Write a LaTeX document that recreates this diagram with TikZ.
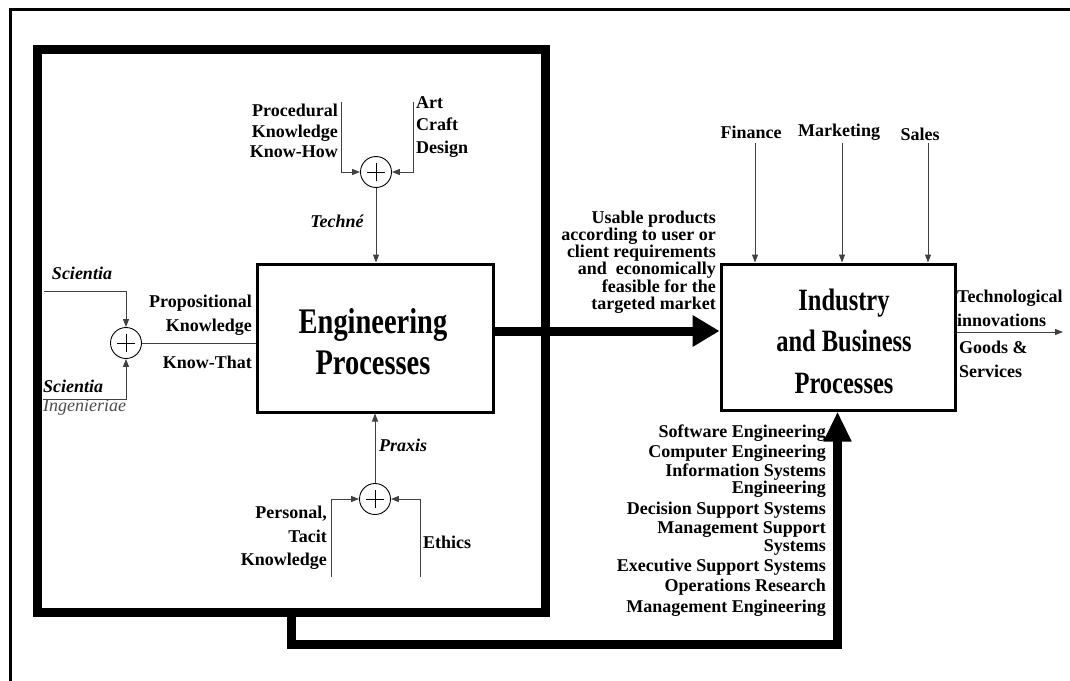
\documentclass[tikz,border=0pt]{standalone}
\usepackage{fontspec}
\setmainfont{Liberation Serif}
\newfontfamily\condfont[FakeStretch=0.79]{Liberation Serif}
\usetikzlibrary{arrows.meta}
\tikzset{
  thinln/.style={draw=black!75, line width=1pt},
  arr/.style={thinln, -{Triangle[length=8pt,width=6pt]}},
  heavy/.style={line width=9pt, line join=miter},
  sumc/.style={circle, draw=black, line width=0.9pt, minimum size=31pt, inner sep=0pt,
    path picture={\draw[line width=1pt]
      ([xshift=-9pt]path picture bounding box.center) -- ([xshift=9pt]path picture bounding box.center)
      ([yshift=-9pt]path picture bounding box.center) -- ([yshift=9pt]path picture bounding box.center);}},
  lbl/.style={font=\fontsize{18}{20}\selectfont\bfseries, inner sep=0pt},
  ilbl/.style={font=\fontsize{18}{20}\selectfont\bfseries\itshape, inner sep=0pt},
  big/.style={font=\fontsize{36}{41}\selectfont\condfont\bfseries, inner sep=0pt, align=center},
  procbox/.style={draw, line width=3pt},
}
\begin{document}
\begin{tikzpicture}[x=1pt,y=-1pt]
\useasboundingbox (0,0) rectangle (1070,680);
\fill[white] (0,0) rectangle (1070,680);
% outer frame
\draw[line width=3pt] (10.5,700) -- (10.5,9) -- (1090,9);
% big thick box
\node[draw, line width=9pt, minimum width=508pt, minimum height=563pt, inner sep=0pt] (bigbox) at (291.5,331) {};
% process boxes
\node[procbox, minimum width=236pt, minimum height=148pt] (eng) at (375,338) {};
\node[procbox, minimum width=234pt, minimum height=146pt] (ind) at (838,337) {};
\node[big] (engtxt) at (373,342) {Engineering\\Processes};
\node[big, font=\fontsize{31}{41.5}\selectfont\condfont\bfseries] (indtxt) at (844,341) {Industry\\and Business\\Processes};

% top summing junction
\node[sumc] (t) at (376,172) {};
\coordinate (tl) at (341,102);
\coordinate (tr) at (413,102);
\draw[arr] (tl) |- (t.west);
\draw[arr] (tr) |- (t.east);
\draw[arr] (t.south) -- (t.south |- eng.north);
\node[lbl, align=right, anchor=east, font=\fontsize{18}{20.5}\selectfont\bfseries] (proc) at (338,131) {Procedural\\Knowledge\\Know-How};
\node[lbl, align=left, anchor=west, font=\fontsize{18}{22.5}\selectfont\bfseries] (art) at (416,127) {Art\\Craft\\Design};
\node[ilbl] (techne) at (337,221) {Techné};

% left summing junction
\node[sumc] (l) at (126,343) {};
\coordinate (sa) at (44,291);
\coordinate (sb) at (43,399);
\draw[arr] (sa) -| (l.north);
\draw[arr] (sb) -| (l.south);
\draw[thinln] (l.east) -- (l.east -| eng.west);
\node[ilbl] (sci1) at (82,273) {Scientia};
\node[lbl, align=right, anchor=east, font=\fontsize{18}{24}\selectfont\bfseries] (prop) at (252,315) {Propositional\\Knowledge};
\node[lbl, anchor=east] (kt) at (252,362) {Know-That};
\node[ilbl, anchor=west] (sci2) at (43,386) {Scientia};
\node[inner sep=0pt, anchor=west, text=black!70, font=\fontsize{18}{20}\selectfont\itshape] (ing) at (43,407) {Ingenieriae};

% bottom summing junction
\node[sumc] (b) at (375,499) {};
\coordinate (bl) at (331,577);
\coordinate (br) at (420,577);
\draw[arr] (bl) |- (b.west);
\draw[arr] (br) |- (b.east);
\draw[arr] (b.north) -- (b.north |- eng.south);
\node[ilbl] (praxis) at (403,445) {Praxis};
\node[lbl, align=right, anchor=east, font=\fontsize{18}{23.5}\selectfont\bfseries] (pers) at (327,538) {Personal,\\Tacit\\Knowledge};
\node[lbl, anchor=west] (ethics) at (423,542) {Ethics};

% main thick arrow
\coordinate (m) at (600,331);
\draw[heavy, -{Triangle[length=27pt,width=30pt]}] (eng.east |- m) -- (ind.west |- m);
\node[lbl, align=right, anchor=east, font=\fontsize{18}{17.2}\selectfont\bfseries] (usable) at (716,262) {Usable products\\according to user or\\client requirements\\and~ economically\\feasible for the\\targeted market};

% finance, marketing, sales
\node[lbl] (fin) at (751,132) {Finance};
\node[lbl] (mkt) at (839,132) {Marketing};
\node[lbl] (sal) at (920,134) {Sales};
\coordinate (f1) at (755,143);
\coordinate (f2) at (842,143);
\coordinate (f3) at (928,143);
\draw[arr] (f1) -- (f1 |- ind.north);
\draw[arr] (f2) -- (f2 |- ind.north);
\draw[arr] (f3) -- (f3 |- ind.north);

% output
\coordinate (out) at (1063,332);
\draw[arr] (ind.east |- out) -- (out);
\node[lbl, align=left, anchor=west, font=\fontsize{18}{24}\selectfont\bfseries] (tech) at (957,308) {Technological\\innovations};
\node[lbl, align=left, anchor=west, font=\fontsize{18}{24}\selectfont\bfseries] (goods) at (959,359) {Goods \&\\Services};

% feedback connector
\coordinate (cb) at (837.5,644);
\draw[heavy, -{Triangle[length=30pt,width=26pt]}] (bigbox.south) |- (cb) -- (cb |- ind.south);

% disciplines
\foreach \txt/\yy [count=\i] in {Software Engineering/433, Computer Engineering/453, Information Systems/472, Engineering/489, Decision Support Systems/510, Management Support/530, Systems/547, Executive Support Systems/567, Operations Research/587, Management Engineering/608}
  \node[lbl, anchor=east] (d\i) at (826,\yy) {\txt};
\end{tikzpicture}
\end{document}
